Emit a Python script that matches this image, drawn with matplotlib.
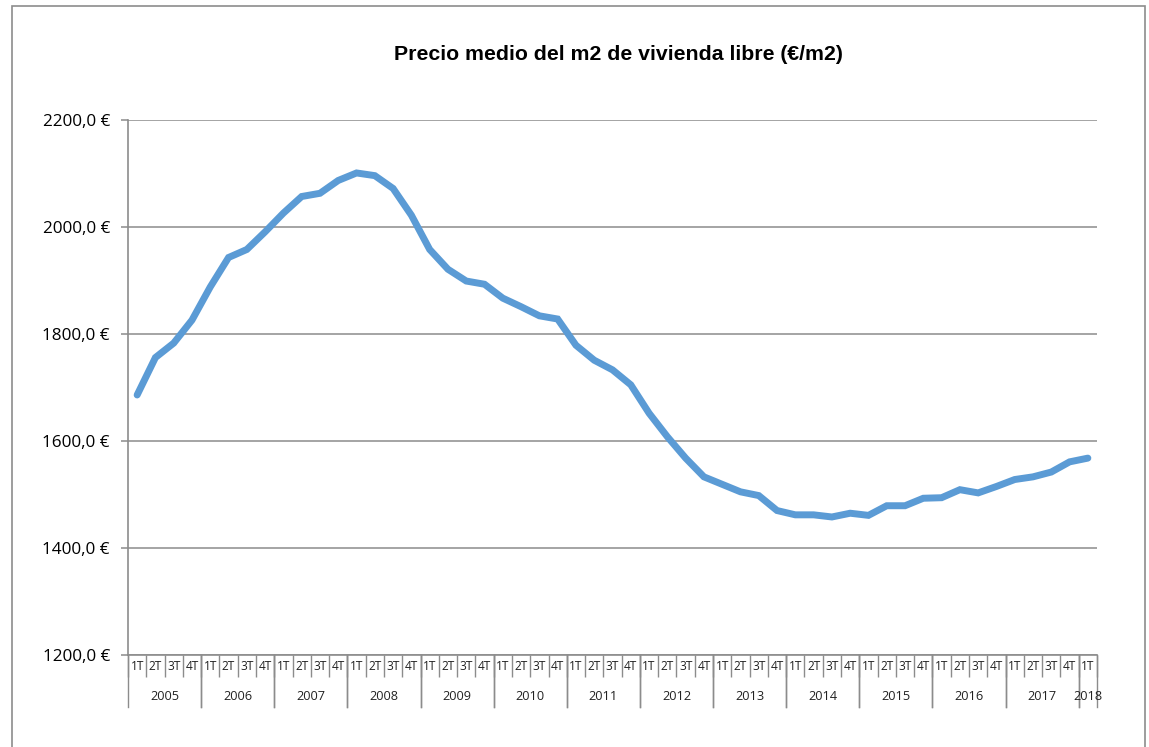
import matplotlib
matplotlib.use("Agg")
import matplotlib.pyplot as plt
from matplotlib.patches import Rectangle
from matplotlib.lines import Line2D
import matplotlib.transforms as mtransforms

# ---- data ----
years = ["2005", "2006", "2007", "2008", "2009", "2010", "2011", "2012",
         "2013", "2014", "2015", "2016", "2017", "2018"]
quarters_per_year = [4] * 13 + [1]
quarter_names = ["1T", "2T", "3T", "4T"]
prices = [1686, 1756, 1783, 1826, 1888, 1943, 1958, 1991, 2026, 2057,
          2063, 2087, 2101, 2096, 2072, 2022, 1958, 1921, 1899, 1893,
          1867, 1851, 1834, 1828, 1779, 1751, 1733, 1705, 1652, 1608,
          1568, 1533, 1519, 1505, 1498, 1470, 1462, 1462, 1458, 1465,
          1461, 1479, 1479, 1493, 1494, 1509, 1503, 1515, 1528, 1533,
          1542, 1561, 1568]
y_ticks = [1200, 1400, 1600, 1800, 2000, 2200]
title = "Precio medio del m2 de vivienda libre (€/m2)"

# ---- figure ----
W, H = 1149, 747
fig = plt.figure(figsize=(W / 100, H / 100), dpi=100)
fig.patch.set_facecolor("white")

# outer chart border
fig.patches.append(Rectangle((11.5 / W, -0.05), (1145 - 11.5) / W, (H - 6) / H + 0.05,
                             transform=fig.transFigure, fill=False,
                             edgecolor="#8c8c8c", linewidth=1.2))

left, right, top, bottom = 128, 1097, 120, 655
ax = fig.add_axes([left / W, (H - bottom) / H, (right - left) / W, (bottom - top) / H])

x = list(range(len(prices)))
ax.plot(x, prices, color="#5B9BD5", linewidth=5.0, solid_capstyle="round",
        solid_joinstyle="miter", zorder=3)

ax.set_xlim(-0.5, len(prices) - 0.5)
ax.set_ylim(1200, 2200)
ax.set_yticks(y_ticks)
ax.set_yticklabels([f"{v},0 €" for v in y_ticks], fontfamily="Open Sans", fontsize=12.3)
ax.yaxis.grid(True, color="#8c8c8c", linewidth=1.1)
ax.set_axisbelow(True)
ax.tick_params(axis="y", length=5, color="#8c8c8c", width=1.1, pad=8)

for s in ["top", "right"]:
    ax.spines[s].set_visible(False)
for s in ["left", "bottom"]:
    ax.spines[s].set_color("#8c8c8c")
    ax.spines[s].set_linewidth(1.2)

# quarter separators as major ticks at category boundaries
bounds = [i - 0.5 for i in range(len(prices) + 1)]
ax.set_xticks(bounds)
ax.set_xticklabels([])
ax.tick_params(axis="x", which="major", length=16, color="#8c8c8c", width=1.0)

trans = mtransforms.blended_transform_factory(ax.transData, ax.transAxes)
qy = -(667 - bottom) / (bottom - top)
yy = -(697 - bottom) / (bottom - top)
sep_y = -(707 - bottom) / (bottom - top)

idx = 0
for yr, nq in zip(years, quarters_per_year):
    for q in range(nq):
        ax.text(idx + q, qy, quarter_names[q], transform=trans, ha="center", va="center",
                fontfamily="Open Sans", fontsize=8.6, color="#222222")
    ax.text(idx + (nq - 1) / 2, yy, yr, transform=trans, ha="center", va="center",
            fontfamily="Open Sans", fontsize=9.2, color="#222222")
    for b in (idx - 0.5, idx + nq - 0.5):
        ax.add_line(Line2D([b, b], [0, sep_y], transform=trans, color="#8c8c8c",
                           linewidth=1.0, clip_on=False))
    idx += nq

fig.text(618 / W, 1 - 55 / H, title, ha="center", va="center",
         fontfamily=["Liberation Sans Narrow", "Liberation Sans"], fontweight="bold",
         fontsize=15.3, color="black")

fig.savefig("out.png", dpi=100)
